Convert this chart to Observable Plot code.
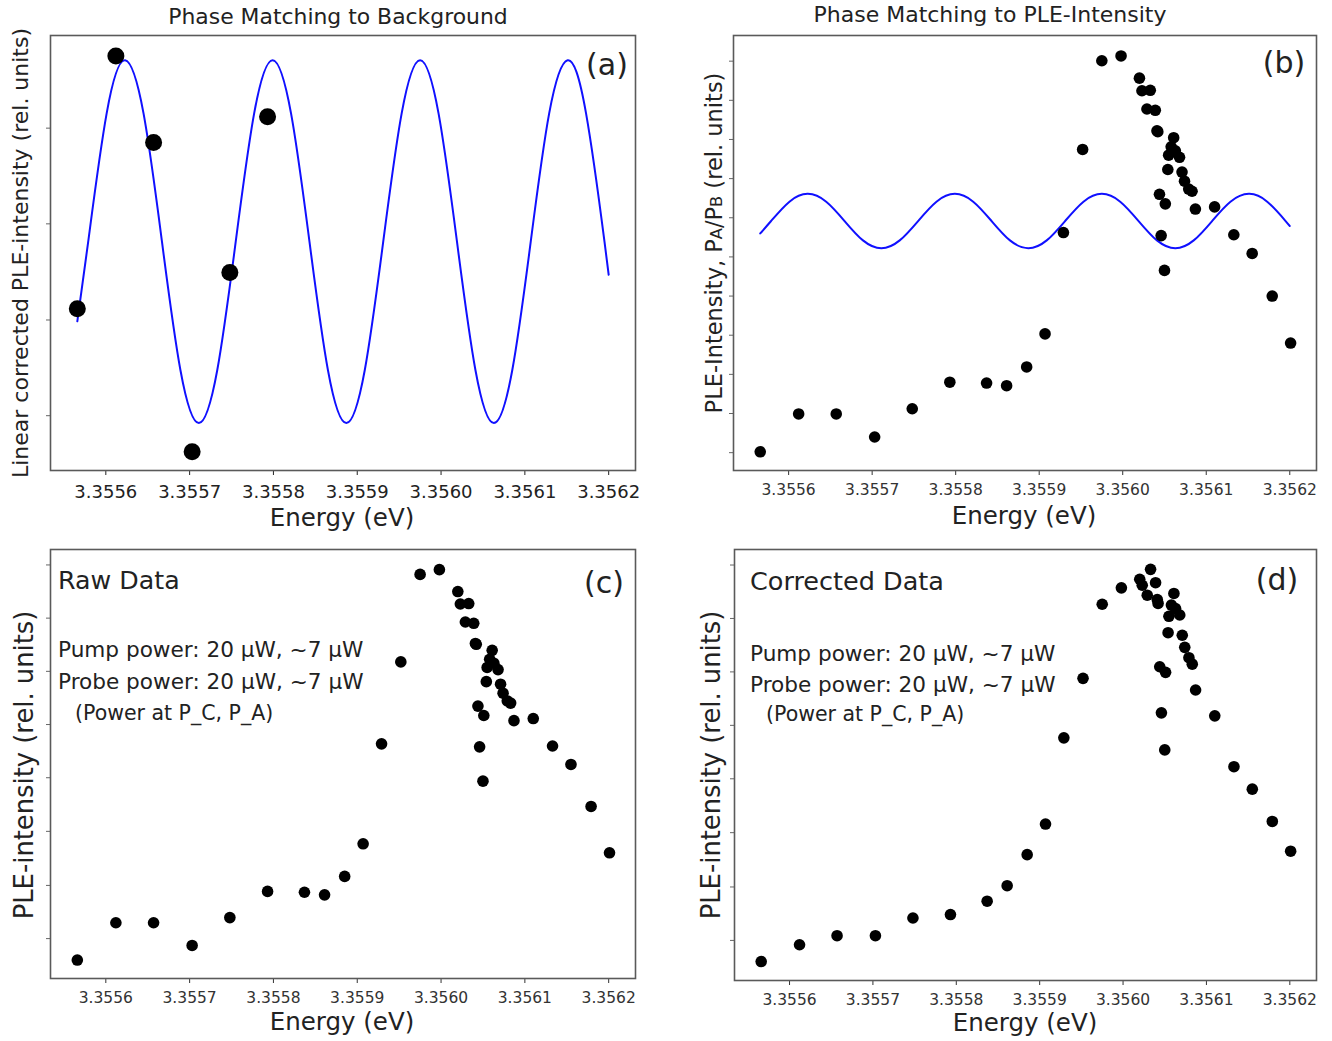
<!DOCTYPE html>
<html><head><meta charset="utf-8">
<script src="https://cdn.jsdelivr.net/npm/d3@7"></script>
<script src="https://cdn.jsdelivr.net/npm/@observablehq/plot@0.6"></script>
<style>
body{margin:0;background:#fff;}
#fig{position:relative;width:1332px;height:1041px;overflow:hidden;background:#fff;}
.panel{position:absolute;}
.t{position:absolute;white-space:nowrap;color:#222;line-height:1;}
</style></head><body><div id="fig"></div>
<script>
// ---- data ----
const energy = [3.355566, 3.355612, 3.355657, 3.355703, 3.355748, 3.355793, 3.355837, 3.355861, 3.355885, 3.355907, 3.355929, 3.355952, 3.355975, 3.355998, 3.356020, 3.356023, 3.356033, 3.356029, 3.356039, 3.356041, 3.356042, 3.356061, 3.356058, 3.356063, 3.356055, 3.356068, 3.356054, 3.356071, 3.356074, 3.356079, 3.356083, 3.356044, 3.356051, 3.356087, 3.356110, 3.356046, 3.356133, 3.356050, 3.356155, 3.356179, 3.356201];
const rawIntensity = [4.3, 13.0, 13.0, 7.7, 14.2, 20.3, 20.1, 19.5, 23.8, 31.4, 54.7, 73.8, 94.2, 95.3, 90.2, 87.3, 87.4, 83.1, 82.8, 78.1, 77.9, 76.5, 74.4, 73.5, 72.5, 72.0, 69.2, 68.6, 66.5, 64.7, 64.2, 63.5, 61.3, 60.1, 60.6, 54.0, 54.2, 46.0, 49.9, 40.1, 29.3];
const correctedIntensity = [4.4, 8.3, 10.4, 10.4, 14.5, 15.3, 18.4, 22.0, 29.2, 36.3, 56.3, 70.1, 87.3, 91.1, 93.1, 91.7, 95.4, 89.4, 92.3, 88.4, 87.5, 89.8, 87.1, 86.3, 84.5, 84.8, 80.7, 80.1, 77.3, 74.9, 73.4, 72.8, 71.5, 67.4, 61.4, 62.1, 49.6, 53.5, 44.4, 36.9, 30.0];
const backgroundEnergy = [3.355566, 3.355612, 3.355657, 3.355703, 3.355748, 3.355793];
const backgroundIntensity = [37.2, 95.3, 75.4, 4.3, 45.5, 81.3];
// fitted oscillation curves
const fitEnergy = [3.355566, 3.355579, 3.355601, 3.355623, 3.355645, 3.355667, 3.355689, 3.355711, 3.355733, 3.355755, 3.355777, 3.355799, 3.355821, 3.355843, 3.355865, 3.355887, 3.355909, 3.355931, 3.355953, 3.355975, 3.355997, 3.356019, 3.356041, 3.356063, 3.356085, 3.356107, 3.356129, 3.356151, 3.356173, 3.356195, 3.3562];
const fitBackground = [34.3, 52.6, 82.1, 94.3, 82.1, 52.6, 23.1, 10.9, 23.1, 52.6, 82.1, 94.3, 82.1, 52.6, 23.1, 10.9, 23.1, 52.6, 82.1, 94.3, 82.1, 52.6, 23.1, 10.9, 23.1, 52.6, 82.1, 94.3, 82.1, 52.6, 45.0];
const fitPle = [54.5, 57.35, 61.8, 63.6, 61.8, 57.35, 52.9, 51.1, 52.9, 57.35, 61.8, 63.6, 61.8, 57.35, 52.9, 51.1, 52.9, 57.35, 61.8, 63.6, 61.8, 57.35, 52.9, 51.1, 52.9, 57.35, 61.8, 63.6, 61.8, 57.35, 56.2];
const xTicks = [3.3556, 3.3557, 3.3558, 3.3559, 3.3560, 3.3561, 3.3562];
const yTicksA = [12.6, 34.6, 56.7, 78.7];
const yTicksB = [4.1, 13.1, 22.1, 31.1, 40.1, 49.1, 58.1, 67.1, 76.1, 85.1, 94.1];
const yTicksC = [9.3, 21.7, 34.3, 46.8, 59.2, 71.6, 84.0, 96.4];
const yTicksD = [9.3, 21.7, 34.3, 46.8, 59.2, 71.6, 84.0, 96.4];

const xDomain = [3.355534, 3.356232];
const fig = document.getElementById("fig");

function zip(xs, ys) { return xs.map((x, i) => ({x, y: ys[i]})); }

function panel({left, top, width, height, mt, mr, mb, ml, yTicks, tickFont, tickColor, tickPad, marks}) {
  const svg = Plot.plot({
    width, height, marginTop: mt, marginRight: mr, marginBottom: mb, marginLeft: ml,
    x: {domain: xDomain},
    y: {domain: [0, 100]},
    style: {fontFamily: "'DejaVu Sans', sans-serif", background: "transparent", overflow: "visible"},
    marks: [
      Plot.axisX(xTicks, {tickFormat: d3.format(".4f"), tickSize: 5, tickPadding: tickPad, fontSize: tickFont, color: tickColor, label: null}),
      Plot.axisY(yTicks, {tickFormat: () => "", tickSize: 4, color: "#666", label: null}),
      ...marks,
      Plot.frame({stroke: "#5a5a5a", strokeWidth: 1.6})
    ]
  });
  const d = document.createElement("div");
  d.className = "panel";
  d.style.left = left + "px"; d.style.top = top + "px";
  d.appendChild(svg);
  fig.appendChild(d);
}

const dv = "'DejaVu Sans', sans-serif";
function text(html, {x, y, size, family = dv, anchor = "middle", rotate = false, color = "#222"}) {
  const el = document.createElement("div");
  el.className = "t";
  el.innerHTML = html;
  el.style.left = x + "px"; el.style.top = y + "px";
  el.style.fontSize = size + "px";
  el.style.fontFamily = family;
  el.style.color = color;
  let tr = anchor === "middle" ? "translate(-50%,-50%)" : "translate(0,-50%)";
  if (rotate) tr += " rotate(-90deg)";
  el.style.transform = tr;
  fig.appendChild(el);
}

const dots = (xs, ys, r) => Plot.dot(zip(xs, ys), {x: "x", y: "y", r, fill: "black", stroke: null});
const fit = (ys) => Plot.line(zip(fitEnergy, ys), {x: "x", y: "y", stroke: "#1010ff", strokeWidth: 2, curve: "natural"});

// (a)
panel({left: 0, top: 0, width: 666, height: 540, mt: 35, mr: 31, mb: 70, ml: 50,
  yTicks: yTicksA, tickFont: 18, tickColor: "#222", tickPad: 10,
  marks: [fit(fitBackground), dots(backgroundEnergy, backgroundIntensity, 8.5)]});
// (b)
panel({left: 666, top: 0, width: 666, height: 540, mt: 35, mr: 16, mb: 70, ml: 67,
  yTicks: yTicksB, tickFont: 15.5, tickColor: "#333", tickPad: 8,
  marks: [fit(fitPle), dots(energy, rawIntensity, 5.8)]});
// (c)
panel({left: 0, top: 540, width: 666, height: 501, mt: 9, mr: 31, mb: 63, ml: 50,
  yTicks: yTicksC, tickFont: 15.5, tickColor: "#333", tickPad: 8,
  marks: [dots(energy, rawIntensity, 5.8)]});
// (d)
panel({left: 666, top: 540, width: 666, height: 501, mt: 9, mr: 16, mb: 61, ml: 68,
  yTicks: yTicksD, tickFont: 15.5, tickColor: "#333", tickPad: 8,
  marks: [dots(energy, correctedIntensity, 5.8)]});

// titles
text("Phase Matching to Background", {x: 338, y: 17, size: 21.9});
text("Phase Matching to PLE-Intensity", {x: 990, y: 15, size: 22});
// axis labels
text("Energy (eV)", {x: 342, y: 518, size: 24.5});
text("Energy (eV)", {x: 1024, y: 516, size: 24.5});
text("Energy (eV)", {x: 342, y: 1022, size: 24.5});
text("Energy (eV)", {x: 1025, y: 1023, size: 24.5});
text("Linear corrected PLE-intensity (rel. units)", {x: 21, y: 253, size: 22, rotate: true});
text("PLE-Intensity, P<span style='font-size:72%'>A</span>/P<span style='font-size:72%'>B</span> (rel. units)", {x: 714, y: 243, size: 22.5, rotate: true});
text("PLE-intensity (rel. units)", {x: 25, y: 765, size: 25.8, rotate: true});
text("PLE-intensity (rel. units)", {x: 712, y: 765, size: 25.8, rotate: true});
// panel tags
text("(a)", {x: 607, y: 65, size: 30});
text("(b)", {x: 1284, y: 63, size: 30});
text("(c)", {x: 604, y: 583, size: 30});
text("(d)", {x: 1277, y: 580, size: 30});
// annotations
text("Raw Data", {x: 58, y: 581, size: 25.3, anchor: "start"});
text("Pump power: 20 μW, ~7 μW", {x: 58, y: 650, size: 21.6, anchor: "start"});
text("Probe power: 20 μW, ~7 μW", {x: 58, y: 682, size: 21.6, anchor: "start"});
text("(Power at P_C, P_A)", {x: 75, y: 713, size: 20.5, anchor: "start"});
text("Corrected Data", {x: 750, y: 582, size: 25.5, anchor: "start"});
text("Pump power: 20 μW, ~7 μW", {x: 750, y: 654, size: 21.6, anchor: "start"});
text("Probe power: 20 μW, ~7 μW", {x: 750, y: 685, size: 21.6, anchor: "start"});
text("(Power at P_C, P_A)", {x: 766, y: 714, size: 20.5, anchor: "start"});
</script></body></html>
